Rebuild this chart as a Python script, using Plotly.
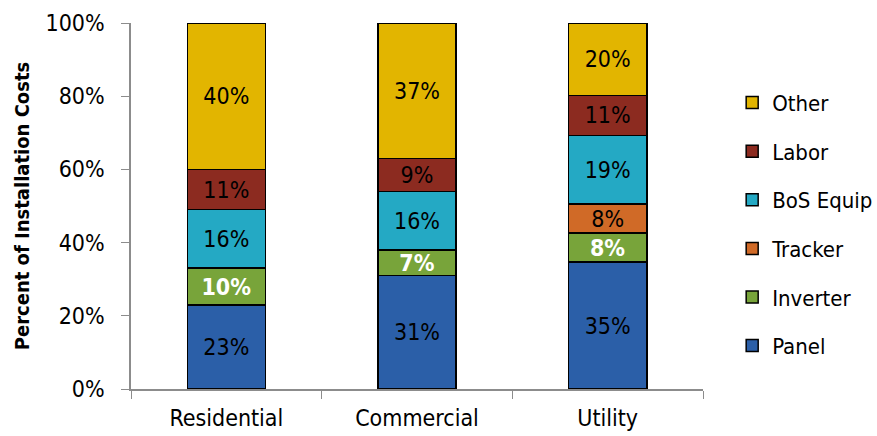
import plotly.graph_objects as go

categories = ["Residential", "Commercial", "Utility"]

# Cost share of each component (%), by market segment
panel = [23, 31, 35]
inverter = [10, 7, 8]
tracker = [0, 0, 8]
bos_equip = [16, 16, 19]
labor = [11, 9, 11]
other = [40, 37, 20]

series = [
    ("Panel", panel, "#2B5FA8", "black", False),
    ("Inverter", inverter, "#78A43A", "white", True),
    ("Tracker", tracker, "#D06A27", "black", False),
    ("BoS Equip", bos_equip, "#24A9C4", "black", False),
    ("Labor", labor, "#8C2B20", "black", False),
    ("Other", other, "#E2B500", "black", False),
]

FONT = "DejaVu Sans Condensed, Liberation Sans Narrow, Arial Narrow, sans-serif"

fig = go.Figure()
for i, (name, vals, color, tcolor, bold) in enumerate(series):
    labels = [(f"<b>{v}%</b>" if bold else f"{v}%") if v > 0 else "" for v in vals]
    fig.add_trace(go.Bar(
        name=name,
        x=categories,
        y=vals,
        text=labels,
        textposition="inside",
        insidetextanchor="middle",
        textangle=0,
        constraintext="none",
        textfont=dict(family=FONT, size=23, color=tcolor),
        marker=dict(color=color, line=dict(color="black", width=1.5)),
        legendgroup=name,
        legendrank=len(series) - i,
    ))

fig.update_layout(
    width=877,
    height=436,
    barmode="stack",
    barnorm="percent",
    bargap=0.59,
    plot_bgcolor="white",
    paper_bgcolor="white",
    margin=dict(l=131, r=174, t=23, b=47, autoexpand=False),
    font=dict(family=FONT, size=22, color="black"),
    showlegend=True,
    legend=dict(
        traceorder="grouped",
        x=1.051, y=0.45, xanchor="left", yanchor="middle",
        font=dict(family=FONT, size=22, color="black"),
        tracegroupgap=17,
        itemwidth=30,
    ),
    xaxis=dict(
        showline=True, linecolor="#8c8c8c", linewidth=1.5,
        ticks="outside", tickson="boundaries", ticklen=8, tickcolor="#8c8c8c",
        tickfont=dict(family=FONT, size=23),
        ticklabelstandoff=8,
        automargin=False,
        showgrid=False,
    ),
    yaxis=dict(
        range=[0, 100], dtick=20, ticksuffix="%",
        showline=True, linecolor="#8c8c8c", linewidth=1.5,
        ticks="outside", ticklen=8, tickcolor="#8c8c8c",
        tickfont=dict(family=FONT, size=23),
        ticklabelstandoff=12,
        automargin=False,
        showgrid=False, zeroline=False,
        title=dict(text="<b>Percent of Installation Costs</b>",
                   font=dict(family=FONT, size=20), standoff=10),
    ),
)

fig.write_html("out.html")
